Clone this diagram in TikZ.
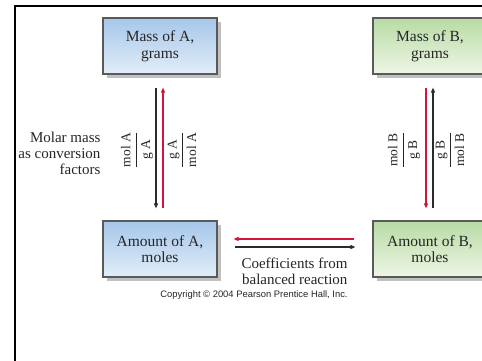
\documentclass[tikz,border=0pt]{standalone}
\usepackage{amsmath}
\usepackage{fontspec}
\setmainfont{Liberation Serif}
\setsansfont{Liberation Sans}
\usetikzlibrary{shadows,arrows.meta}
\definecolor{rarrow}{HTML}{D3143C}
\definecolor{karrow}{HTML}{2B2B2B}
\definecolor{boxedge}{HTML}{5A5A5A}
\definecolor{btop}{HTML}{A6C7EA}
\definecolor{bbot}{HTML}{E2EDF8}
\definecolor{gtop}{HTML}{B7DBA4}
\definecolor{gbot}{HTML}{EFF6E6}
\definecolor{txt}{HTML}{262626}
\tikzset{
  x=1pt, y=-1pt,
  stepbox/.style={draw=boxedge, line width=1.1pt, minimum width=114pt, minimum height=56pt,
    align=center, font=\fontsize{15.5}{16.5}\selectfont, text=txt,
    drop shadow={shadow xshift=4pt, shadow yshift=-4pt, fill=black!35, opacity=0.7}},
  bluebox/.style={stepbox, top color=btop, bottom color=bbot},
  greenbox/.style={stepbox, top color=gtop, bottom color=gbot},
  arr/.style={line width=1.3pt, -{Triangle[length=5pt,width=4pt]}},
  lbl/.style={font=\fontsize{15}{16}\selectfont, text=txt},
  frac/.style={font=\fontsize{13.5}{15}\selectfont, text=txt, rotate=90}
}
\begin{document}
\begin{tikzpicture}
\useasboundingbox (0,0) rectangle (482,361);
\clip (0,0) rectangle (482,361);
\fill[white] (0,0) rectangle (482,361);
\node[bluebox] (massA) at (160,46) {Mass of A,\\grams};
\node[greenbox] (massB) at (430,46) {Mass of B,\\grams};
\node[bluebox] (amtA) at (160,249) {Amount of A,\\moles};
\node[greenbox] (amtB) at (430,249) {Amount of B,\\moles};
% vertical arrows A
\draw[arr, karrow, shorten <=13pt, shorten >=12pt] ([xshift=-4pt]massA.south) -- ([xshift=-4pt]amtA.north);
\draw[arr, rarrow, shorten <=12pt, shorten >=13pt] ([xshift=3pt]amtA.north) -- ([xshift=3pt]massA.south);
% vertical arrows B
\draw[arr, rarrow, shorten <=13pt, shorten >=12pt] ([xshift=-4pt]massB.south) -- ([xshift=-4pt]amtB.north);
\draw[arr, karrow, shorten <=12pt, shorten >=13pt] ([xshift=3pt]amtB.north) -- ([xshift=3pt]massB.south);
% horizontal arrows
\draw[arr, rarrow, shorten <=18pt, shorten >=16pt] ([yshift=10pt]amtB.west) -- ([yshift=10pt]amtA.east);
\draw[arr, karrow, shorten <=17pt, shorten >=17pt] ([yshift=2pt]amtA.east) -- ([yshift=2pt]amtB.west);
% labels
\node[lbl, align=right, anchor=east] (molar) at (104,153) {Molar mass\\as conversion\\factors};
\node[frac] (fA1) at (137,150) {$\dfrac{\mathrm{mol\ A}}{\mathrm{g\ A}}$};
\node[frac] (fA2) at (182,150) {$\dfrac{\mathrm{g\ A}}{\mathrm{mol\ A}}$};
\node[frac] (fB1) at (404,150) {$\dfrac{\mathrm{mol\ B}}{\mathrm{g\ B}}$};
\node[frac] (fB2) at (450,150) {$\dfrac{\mathrm{g\ B}}{\mathrm{mol\ B}}$};
\node[lbl, align=right, anchor=east] (coef) at (351,271.5) {Coefficients from\\balanced reaction};
\node[font=\sffamily\fontsize{9.4}{10}\selectfont, text=txt] (copy) at (254,295) {Copyright \textcopyright\ 2004 Pearson Prentice Hall, Inc.};
\fill[white] (0,0) rectangle (14,361);
\draw[line width=2.2pt] (15,365) -- (15,6) -- (490,6);
\end{tikzpicture}
\end{document}
